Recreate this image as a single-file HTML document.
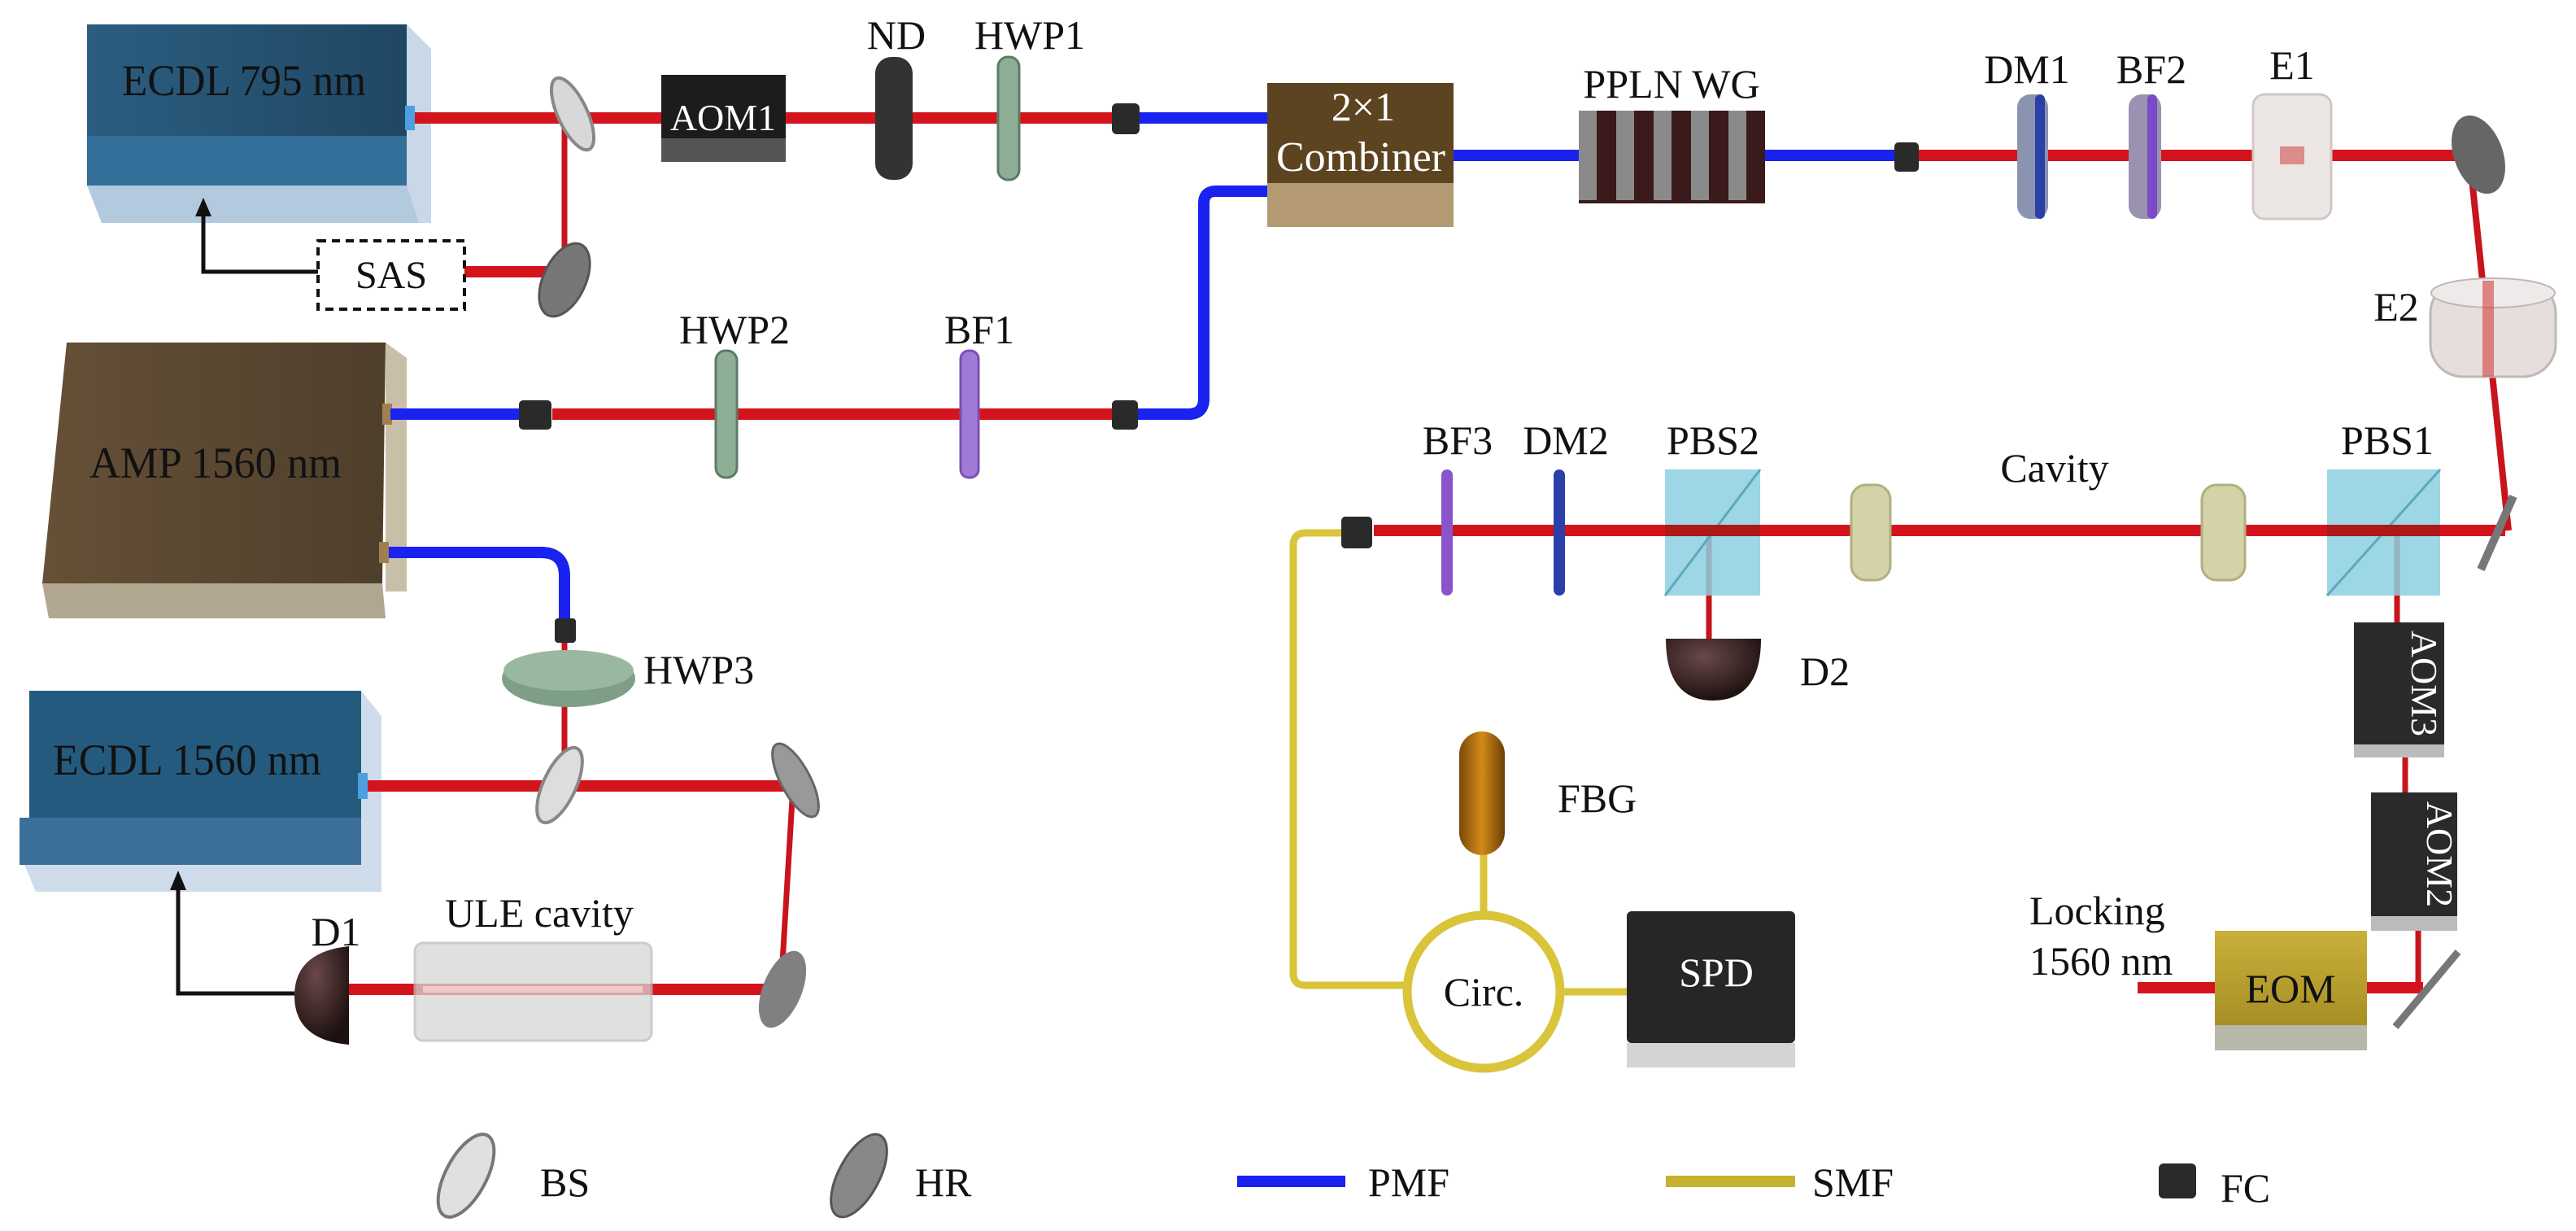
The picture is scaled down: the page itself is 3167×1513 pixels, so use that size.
<!DOCTYPE html>
<html><head><meta charset="utf-8"><style>
html,body{margin:0;padding:0;background:#fff;}
svg{display:block;font-family:"Liberation Serif","Times New Roman",serif;}
svg text{font-family:"Liberation Serif","Times New Roman",serif;fill:#111;}
</style></head><body>
<svg width="3167" height="1513" viewBox="0 0 3167 1513" xmlns="http://www.w3.org/2000/svg" font-family="Liberation Serif, serif">
<defs>
<linearGradient id="blueTop" x1="0" y1="0" x2="1" y2="0"><stop offset="0" stop-color="#2b5d80"/><stop offset="1" stop-color="#1f4763"/></linearGradient>
<linearGradient id="brown" x1="0" y1="0" x2="1" y2="0"><stop offset="0" stop-color="#665037"/><stop offset="1" stop-color="#4e3f2c"/></linearGradient>
<linearGradient id="gold" x1="0" y1="0" x2="0" y2="1"><stop offset="0" stop-color="#c9b03a"/><stop offset="1" stop-color="#a88f25"/></linearGradient>
<radialGradient id="dome" cx="0.4" cy="0.3" r="0.7"><stop offset="0" stop-color="#6a4848"/><stop offset="1" stop-color="#1d1010"/></radialGradient>
<linearGradient id="fbg" x1="0" y1="0" x2="1" y2="0"><stop offset="0" stop-color="#7a4a08"/><stop offset="0.5" stop-color="#d38a1a"/><stop offset="1" stop-color="#6a3f05"/></linearGradient>
</defs>

<!-- ECDL 795 -->
<polygon points="500,30 530,60 530,274 500,274" fill="#c8d8e8"/>
<rect x="107" y="30" width="393" height="137" fill="url(#blueTop)"/>
<rect x="107" y="167" width="393" height="61" fill="#336f99"/>
<polygon points="107,228 500,228 515,274 125,274" fill="#b3c9de"/>
<text x="300" y="117" font-size="54" text-anchor="middle" textLength="300" lengthAdjust="spacingAndGlyphs">ECDL 795 nm</text>
<rect x="498" y="130" width="12" height="30" fill="#4aa0e0"/>

<!-- beams top row -->
<line x1="510" y1="145" x2="1367" y2="145" stroke="#d4141c" stroke-width="14"/>
<line x1="694" y1="145" x2="694" y2="334" stroke="#c8141c" stroke-width="7"/>
<line x1="571" y1="334" x2="680" y2="334" stroke="#d4141c" stroke-width="14"/>
<ellipse cx="704" cy="140" rx="18" ry="48" transform="rotate(-25 704 140)" fill="#d8d8d8" stroke="#888" stroke-width="4"/>
<ellipse cx="694" cy="344" rx="26" ry="48" transform="rotate(25 694 344)" fill="#777" stroke="#555" stroke-width="3"/>
<rect x="391" y="296" width="180" height="84" fill="#fff" stroke="#111" stroke-width="4" stroke-dasharray="10,7"/>
<text x="481" y="354" font-size="48" text-anchor="middle">SAS</text>
<polyline points="391,334 250,334 250,258" fill="none" stroke="#111" stroke-width="5"/>
<polygon points="250,243 240,266 260,266" fill="#111"/>
<!-- AOM1 -->
<rect x="813" y="92" width="153" height="78" fill="#1c1c1c"/>
<rect x="813" y="170" width="153" height="29" fill="#555"/>
<text x="889" y="160" font-size="46" text-anchor="middle" style="fill:#fff">AOM1</text>
<rect x="1076" y="70" width="46" height="151" rx="20" fill="#333"/>
<text x="1102" y="60" font-size="50" text-anchor="middle">ND</text>
<rect x="1227" y="70" width="26" height="151" rx="12" fill="#8fae96" stroke="#5d7a64" stroke-width="3"/>
<text x="1266" y="60" font-size="50" text-anchor="middle">HWP1</text>
<line x1="1398" y1="145" x2="1561" y2="145" stroke="#1a22f0" stroke-width="14"/>
<rect x="1367" y="127" width="34" height="38" rx="6" fill="#2a2a2a"/>

<!-- combiner -->
<path d="M1561,235 L1495,235 Q1480,235 1480,250 L1480,490 Q1480,509 1461,509 L1398,509" fill="none" stroke="#1a22f0" stroke-width="14"/>
<rect x="1558" y="102" width="229" height="123" fill="#5c4420"/>
<rect x="1558" y="225" width="229" height="54" fill="#b39a72"/>
<text x="1676" y="148" font-size="50" text-anchor="middle" style="fill:#fff">2×1</text>
<text x="1673" y="210" font-size="52" text-anchor="middle" style="fill:#fff">Combiner</text>

<!-- PPLN -->
<line x1="1787" y1="191" x2="2340" y2="191" stroke="#1a22f0" stroke-width="14"/>
<rect x="1941" y="136" width="229" height="114" fill="#3a1a1a"/>
<g fill="#8a8a8a">
<rect x="1941" y="136" width="22" height="110"/><rect x="1987" y="136" width="22" height="110"/><rect x="2033" y="136" width="22" height="110"/><rect x="2079" y="136" width="22" height="110"/><rect x="2125" y="136" width="22" height="110"/>
</g>
<text x="2055" y="120" font-size="50" text-anchor="middle">PPLN WG</text>
<rect x="2329" y="175" width="30" height="36" rx="5" fill="#2a2a2a"/>
<line x1="2359" y1="191" x2="3040" y2="191" stroke="#d4141c" stroke-width="14"/>
<rect x="2480" y="116" width="38" height="153" rx="16" fill="#8a93b0"/><rect x="2502" y="116" width="12" height="153" rx="6" fill="#2b3fa8"/>
<text x="2492" y="102" font-size="50" text-anchor="middle">DM1</text>
<rect x="2617" y="116" width="40" height="153" rx="16" fill="#9a92b0"/><rect x="2640" y="116" width="12" height="153" rx="6" fill="#7a4ac8"/>
<text x="2645" y="102" font-size="50" text-anchor="middle">BF2</text>
<rect x="2770" y="116" width="96" height="153" rx="14" fill="#ece6e4" stroke="#d0c8c6" stroke-width="3"/>
<rect x="2803" y="180" width="30" height="22" fill="#d25050" opacity="0.6"/>
<text x="2818" y="97" font-size="50" text-anchor="middle">E1</text>
<line x1="3036" y1="191" x2="3084" y2="652" stroke="#c8141c" stroke-width="8"/>
<ellipse cx="3047" cy="190" rx="30" ry="50" transform="rotate(-20 3047 190)" fill="#666"/>
<rect x="2988" y="345" width="154" height="118" rx="40" fill="#e5dedd" stroke="#c0b8b6" stroke-width="3"/>
<ellipse cx="3065" cy="360" rx="76" ry="18" fill="#efeaea" stroke="#c0b8b6" stroke-width="2"/>
<rect x="3052" y="345" width="14" height="118" fill="#d04040" opacity="0.6"/>
<text x="2946" y="394" font-size="50" text-anchor="middle">E2</text>

<!-- cavity row -->
<line x1="1689" y1="652" x2="3080" y2="652" stroke="#d4141c" stroke-width="14"/>
<line x1="2101" y1="652" x2="2101" y2="785" stroke="#c8141c" stroke-width="7"/>
<line x1="2947" y1="652" x2="2947" y2="765" stroke="#c8141c" stroke-width="7"/>
<line x1="3090" y1="610" x2="3050" y2="700" stroke="#777" stroke-width="10"/>
<path d="M1649,655 L1605,655 Q1590,655 1590,670 L1590,1196 Q1590,1211 1605,1211 L1729,1211" fill="none" stroke="#d9c43a" stroke-width="9"/>
<rect x="1649" y="635" width="38" height="39" rx="5" fill="#2a2a2a"/>
<rect x="1772" y="577" width="14" height="155" rx="7" fill="#8a55c8"/>
<text x="1792" y="558" font-size="50" text-anchor="middle">BF3</text>
<rect x="1910" y="577" width="14" height="155" rx="7" fill="#2b3fa8"/>
<text x="1925" y="558" font-size="50" text-anchor="middle">DM2</text>
<rect x="2047" y="577" width="117" height="155" fill="#8ccfe0" opacity="0.85"/>
<line x1="2047" y1="732" x2="2164" y2="577" stroke="#5aaabb" stroke-width="3"/>
<line x1="2047" y1="652" x2="2164" y2="652" stroke="#b01818" stroke-width="14"/>
<text x="2106" y="558" font-size="50" text-anchor="middle">PBS2</text>
<rect x="2276" y="596" width="48" height="117" rx="18" fill="#d4d3a8" stroke="#b0af80" stroke-width="3"/>
<rect x="2707" y="596" width="53" height="117" rx="18" fill="#d4d3a8" stroke="#b0af80" stroke-width="3"/>
<text x="2526" y="592" font-size="50" text-anchor="middle">Cavity</text>
<rect x="2861" y="577" width="139" height="155" fill="#8ccfe0" opacity="0.85"/>
<line x1="2861" y1="732" x2="3000" y2="577" stroke="#5aaabb" stroke-width="3"/>
<line x1="2861" y1="652" x2="3000" y2="652" stroke="#b01818" stroke-width="14"/>
<text x="2935" y="558" font-size="50" text-anchor="middle">PBS1</text>
<path d="M2048,785 L2165,785 Q2165,861 2106,861 Q2048,861 2048,785 Z" fill="url(#dome)"/>
<text x="2213" y="842" font-size="50">D2</text>
<line x1="2957" y1="931" x2="2957" y2="974" stroke="#c8141c" stroke-width="7"/>
<line x1="2973" y1="1144" x2="2973" y2="1214" stroke="#c8141c" stroke-width="7"/>
<rect x="2894" y="765" width="111" height="150" fill="#2a2a2a"/><rect x="2894" y="915" width="111" height="16" fill="#bbb"/>
<text transform="translate(2965,840) rotate(90)" font-size="46" text-anchor="middle" style="fill:#fff">AOM3</text>
<rect x="2915" y="974" width="106" height="152" fill="#2a2a2a"/><rect x="2915" y="1126" width="106" height="18" fill="#bbb"/>
<text transform="translate(2984,1050) rotate(90)" font-size="46" text-anchor="middle" style="fill:#fff">AOM2</text>
<line x1="2628" y1="1214" x2="2979" y2="1214" stroke="#d4141c" stroke-width="14"/>
<rect x="2723" y="1144" width="187" height="116" fill="url(#gold)"/>
<rect x="2723" y="1260" width="187" height="31" fill="#b8b8a8"/>
<text x="2816" y="1232" font-size="50" text-anchor="middle">EOM</text>
<line x1="3022" y1="1170" x2="2945" y2="1262" stroke="#777" stroke-width="9"/>
<text x="2495" y="1136" font-size="50">Locking</text>
<text x="2495" y="1198" font-size="50">1560 nm</text>
<line x1="1824" y1="1045" x2="1824" y2="1122" stroke="#d9c43a" stroke-width="9"/>
<rect x="1794" y="899" width="56" height="152" rx="28" fill="url(#fbg)"/>
<text x="1915" y="998" font-size="50">FBG</text>
<circle cx="1824" cy="1219" r="94" fill="#fff" stroke="#d9c43a" stroke-width="11"/>
<text x="1824" y="1236" font-size="50" text-anchor="middle">Circ.</text>
<line x1="1918" y1="1219" x2="2000" y2="1219" stroke="#d9c43a" stroke-width="9"/>
<rect x="2000" y="1120" width="207" height="162" rx="6" fill="#262626"/>
<rect x="2000" y="1282" width="207" height="30" fill="#d4d4d4"/>
<text x="2110" y="1212" font-size="50" text-anchor="middle" style="fill:#fff">SPD</text>

<!-- AMP -->
<polygon points="474,421 500,440 500,727 474,727" fill="#c9bfa9"/>
<polygon points="82,421 474,421 470,717 52,717" fill="url(#brown)"/>
<polygon points="52,717 470,717 474,760 60,760" fill="#b1a68f"/>
<text x="265" y="587" font-size="54" text-anchor="middle" textLength="310" lengthAdjust="spacingAndGlyphs">AMP 1560 nm</text>
<rect x="470" y="496" width="12" height="26" fill="#a08050"/>
<rect x="466" y="666" width="12" height="26" fill="#a08050"/>
<line x1="480" y1="509" x2="640" y2="509" stroke="#1a22f0" stroke-width="14"/>
<line x1="679" y1="509" x2="1367" y2="509" stroke="#d4141c" stroke-width="14"/>
<rect x="638" y="492" width="40" height="36" rx="5" fill="#2a2a2a"/>
<rect x="1367" y="492" width="32" height="36" rx="5" fill="#2a2a2a"/>
<rect x="880" y="431" width="26" height="156" rx="12" fill="#8fae96" stroke="#5d7a64" stroke-width="3"/>
<text x="903" y="422" font-size="50" text-anchor="middle">HWP2</text>
<rect x="1181" y="431" width="22" height="156" rx="10" fill="#a07ad8" stroke="#7a50b0" stroke-width="3"/>
<text x="1204" y="422" font-size="50" text-anchor="middle">BF1</text>
<path d="M478,679 L665,679 Q694,679 694,708 L694,770" fill="none" stroke="#1a22f0" stroke-width="14"/>
<rect x="682" y="760" width="26" height="30" rx="4" fill="#2a2a2a"/>
<line x1="694" y1="790" x2="694" y2="966" stroke="#c8141c" stroke-width="7"/>
<ellipse cx="699" cy="834" rx="82" ry="35" fill="#7f9e86"/>
<ellipse cx="699" cy="824" rx="80" ry="25" fill="#9ab8a0"/>
<text x="791" y="840" font-size="50">HWP3</text>

<!-- ECDL 1560 -->
<polygon points="444,849 469,880 469,1096 444,1096" fill="#cfdceb"/>
<rect x="36" y="849" width="408" height="156" fill="#255a7f"/>
<rect x="24" y="1005" width="420" height="58" fill="#3d7099"/>
<polygon points="30,1063 444,1063 458,1096 44,1096" fill="#cddbea"/>
<text x="230" y="952" font-size="54" text-anchor="middle" textLength="330" lengthAdjust="spacingAndGlyphs">ECDL 1560 nm</text>
<rect x="440" y="950" width="12" height="32" fill="#4aa0e0"/>
<line x1="452" y1="966" x2="980" y2="966" stroke="#d4141c" stroke-width="14"/>
<line x1="975" y1="966" x2="960" y2="1216" stroke="#c8141c" stroke-width="7"/>
<ellipse cx="688" cy="965" rx="20" ry="50" transform="rotate(25 688 965)" fill="#ddd" stroke="#888" stroke-width="4"/>
<ellipse cx="978" cy="959" rx="18" ry="50" transform="rotate(-28 978 959)" fill="#999" stroke="#666" stroke-width="3"/>
<line x1="400" y1="1216" x2="950" y2="1216" stroke="#d4141c" stroke-width="14"/>
<rect x="510" y="1159" width="291" height="120" rx="10" fill="#d6d6d6" opacity="0.75" stroke="#bbb" stroke-width="3"/>
<line x1="520" y1="1216" x2="790" y2="1216" stroke="#f0c8c8" stroke-width="8"/>
<ellipse cx="962" cy="1216" rx="24" ry="50" transform="rotate(22 962 1216)" fill="#808080"/>
<text x="663" y="1139" font-size="50" text-anchor="middle">ULE cavity</text>
<path d="M429,1163 Q362,1170 362,1224 Q362,1278 429,1284 Z" fill="url(#dome)"/>
<text x="413" y="1162" font-size="50" text-anchor="middle">D1</text>
<polyline points="362,1221 219,1221 219,1086" fill="none" stroke="#111" stroke-width="5"/>
<polygon points="219,1070 209,1094 229,1094" fill="#111"/>

<!-- legend -->
<ellipse cx="573" cy="1445" rx="25" ry="56" transform="rotate(28 573 1445)" fill="#e0e0e0" stroke="#777" stroke-width="4"/>
<text x="664" y="1470" font-size="50">BS</text>
<ellipse cx="1056" cy="1445" rx="25" ry="56" transform="rotate(28 1056 1445)" fill="#888" stroke="#555" stroke-width="3"/>
<text x="1125" y="1470" font-size="50">HR</text>
<line x1="1521" y1="1452" x2="1654" y2="1452" stroke="#1a22f0" stroke-width="14"/>
<text x="1682" y="1470" font-size="50">PMF</text>
<line x1="2048" y1="1452" x2="2207" y2="1452" stroke="#c8b030" stroke-width="14"/>
<text x="2228" y="1470" font-size="50">SMF</text>
<rect x="2654" y="1430" width="46" height="43" rx="6" fill="#2a2a2a"/>
<text x="2730" y="1477" font-size="50">FC</text>
</svg>
</body></html>
